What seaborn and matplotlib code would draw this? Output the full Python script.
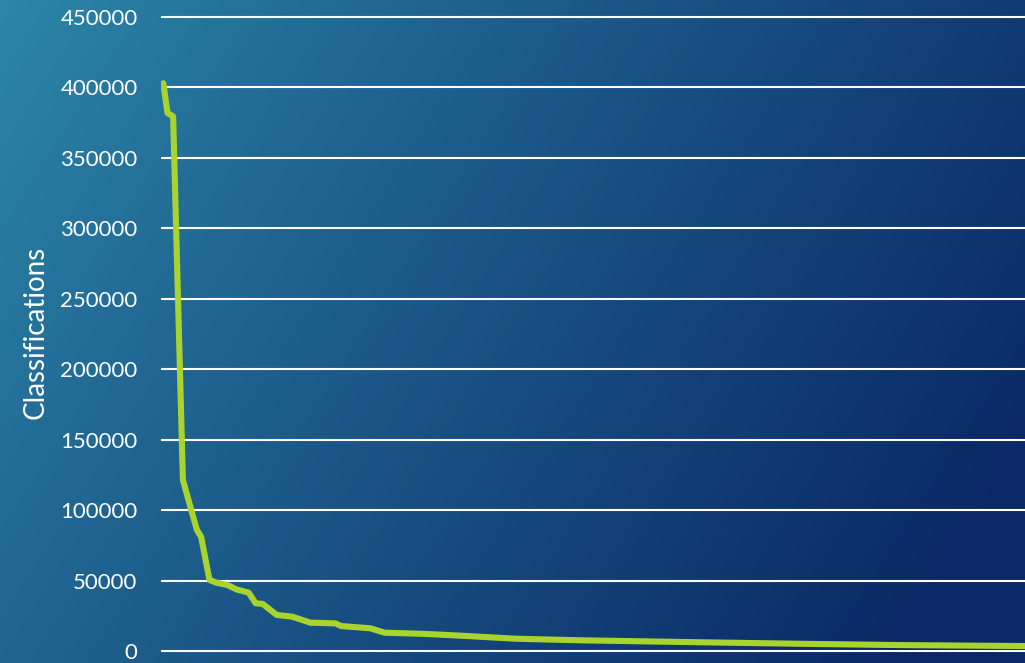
import numpy as np
import pandas as pd
import matplotlib
matplotlib.use("Agg")
import matplotlib.pyplot as plt
import seaborn as sns

# ---- data ----
ranks = [1, 4, 8, 15, 18, 25, 28, 34, 39, 47, 53, 62, 67, 72, 82, 93, 106,
         124, 128, 149, 159, 189, 213, 253, 299, 384, 465, 527, 617, 640]
classifications = [403000, 381900, 379500, 121400, 110700, 85900, 81100,
                   50400, 48500, 46800, 43800, 41400, 33900, 33400, 25600,
                   24400, 20100, 19600, 17700, 16100, 13000, 12100, 10900,
                   8700, 7600, 6200, 5000, 4200, 3500, 3400]
y_ticks = [0, 50000, 100000, 150000, 200000, 250000, 300000, 350000, 400000, 450000]
y_label = "Classifications"

df = pd.DataFrame({"rank": ranks, "classifications": classifications})

W, H = 1025, 663
fig = plt.figure(figsize=(W / 100, H / 100), dpi=100)

# background gradient
bg = fig.add_axes([0, 0, 1, 1], zorder=0)
xx, yy = np.meshgrid(np.linspace(0, 1, W), np.linspace(0, 1, H))
t = np.clip(0.78 * xx + 0.32 * yy, 0, 1) ** 0.9
c0 = np.array([44, 135, 170]) / 255.0
c1 = np.array([10, 40, 101]) / 255.0
img = c0[None, None, :] * (1 - t[..., None]) + c1[None, None, :] * t[..., None]
bg.imshow(img, aspect="auto", extent=[0, 1, 0, 1], origin="upper")
bg.set_axis_off()

ax = fig.add_axes([160.5 / W, 8 / H, 1 - 160.5 / W, 645 / H], zorder=1)
ax.set_facecolor("none")

sns.lineplot(data=df, x="rank", y="classifications", ax=ax, color="#a9d42e",
             linewidth=4.4, solid_capstyle="round", solid_joinstyle="round",
             zorder=3)

ax.set_xlim(-1, 616.5)
ax.set_ylim(-2839, 454969)
ax.set_yticks(y_ticks)
ax.set_yticklabels([str(v) for v in y_ticks])
ax.set_xticks([])
ax.set_xlabel("")
ax.grid(axis="y", color="white", linewidth=1.5, zorder=1)
ax.set_axisbelow(True)
for s in ax.spines.values():
    s.set_visible(False)
ax.tick_params(axis="y", length=0, pad=16.5, labelcolor="white", labelsize=16)
for lbl in ax.get_yticklabels():
    lbl.set_family("Lato")

ax.set_ylabel(y_label, color="white", fontsize=20, family="Lato")
ax.yaxis.label.set_va("center")
ax.yaxis.set_label_coords(-0.145, 0.5)

fig.savefig("out.png", dpi=100)
